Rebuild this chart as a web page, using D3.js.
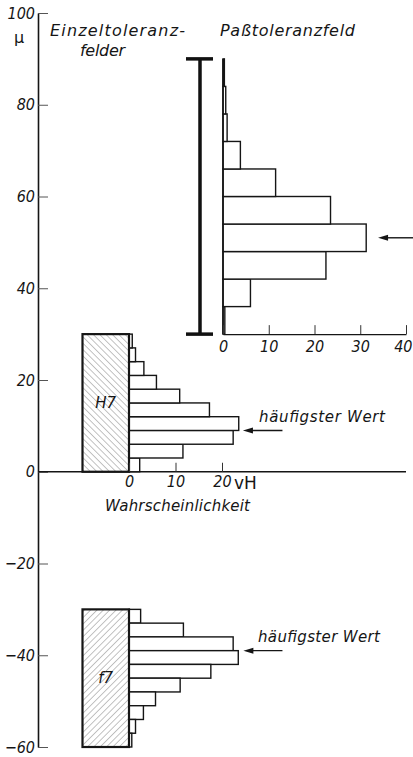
<!DOCTYPE html>
<html>
<head>
<meta charset="utf-8">
<script src="https://cdn.jsdelivr.net/npm/d3@7"></script>
<style>
body { margin: 0; background: #fff; }
text { font-family: "DejaVu Sans", sans-serif; font-style: italic; fill: #151515; }
.num { font-family: "DejaVu Sans Condensed", sans-serif; font-size: 16px; font-style: italic; }
.lbl { font-size: 15px; }
.up { font-style: normal; }
</style>
</head>
<body>
<div id="chart"></div>
<script>
// y ticks in micron
const yTicks = [100, 80, 60, 40, 20, 0, -20, -40, -60];
const probTicks = [0, 10, 20];
const fitTicks = [0, 10, 20, 30, 40];

// tolerance fields (micron)
const holeField = [0, 30];
const shaftField = [-60, -30];
const fitField = [30, 90];

// histograms: lower bin edge (micron) and share in vH
const holeBins = [0, 3, 6, 9, 12, 15, 18, 21, 24, 27];
const holeValues = [2.3, 11.6, 22.4, 23.6, 17.3, 10.9, 5.9, 3.2, 1.4, 0.7];
const shaftBins = [-33, -36, -39, -42, -45, -48, -51, -54, -57, -60];
const shaftValues = [2.5, 11.7, 22.4, 23.5, 17.6, 11.0, 5.7, 3.1, 1.4, 0.6];
const fitBins = [30, 36, 42, 48, 54, 60, 66, 72, 78, 84];
const fitValues = [0.4, 6.0, 22.5, 31.3, 23.5, 11.5, 3.8, 0.9, 0.6, 0.3];

// most frequent value (micron) marked by arrows
const holePeak = 9;
const shaftPeak = -39;
const fitPeak = 51;

const width = 413;
const height = 757;
const axisX = 38;
const beamX = 200;

const svg = d3.select('#chart')
    .append('svg')
    .attr('width', width)
    .attr('height', height);

const defs = svg.append('defs');
[['hatchH', -45], ['hatchF', 45]].forEach(([id, angle]) => {
    defs.append('pattern')
        .attr('id', id)
        .attr('patternUnits', 'userSpaceOnUse')
        .attr('width', 4.5)
        .attr('height', 4.5)
        .attr('patternTransform', 'rotate(' + angle + ')')
        .append('line')
        .attr('x1', 0).attr('y1', 0)
        .attr('x2', 0).attr('y2', 4.5)
        .attr('stroke', '#7a7a7a')
        .attr('stroke-width', 0.9);
});

const y = d3.scaleLinear().domain([-60, 100]).range([747, 13]);
const xProb = d3.scaleLinear().domain([0, 20]).range([129, 222]);
const xFit = d3.scaleLinear().domain([0, 40]).range([223, 406]);

// y axis: ticks point right, labels left
const yAxisG = svg.append('g')
    .attr('transform', 'translate(' + axisX + ',0)')
    .call(d3.axisLeft(y).tickValues(yTicks).tickSize(-10).tickSizeOuter(0).tickPadding(3));
yAxisG.attr('font-family', null).attr('font-size', null);
yAxisG.select('.domain').attr('stroke', '#151515').attr('stroke-width', 1.6);
yAxisG.selectAll('.tick line').attr('stroke', '#555').attr('stroke-width', 1);
yAxisG.selectAll('.tick text').attr('class', 'num').attr('fill', null);

// zero line
svg.append('line')
    .attr('x1', axisX).attr('x2', xFit(40))
    .attr('y1', y(0)).attr('y2', y(0))
    .attr('stroke', '#151515').attr('stroke-width', 1.6);

// hole / shaft histograms
function histogram(bins, values, step) {
    svg.append('g').selectAll('rect')
        .data(bins)
        .enter()
        .append('rect')
        .attr('x', xProb(0))
        .attr('y', d => y(d + step))
        .attr('width', (d, i) => xProb(values[i]) - xProb(0))
        .attr('height', d => y(d) - y(d + step))
        .attr('fill', '#fff')
        .attr('stroke', '#151515')
        .attr('stroke-width', 1.4);
}
histogram(holeBins, holeValues, 3);
histogram(shaftBins, shaftValues, 3);

// hatched tolerance fields
function field(range, pattern, label) {
    svg.append('rect')
        .attr('x', xProb(-10))
        .attr('y', y(range[1]))
        .attr('width', xProb(0) - xProb(-10))
        .attr('height', y(range[0]) - y(range[1]))
        .attr('fill', 'url(#' + pattern + ')')
        .attr('stroke', '#151515')
        .attr('stroke-width', 2.2);
    svg.append('text')
        .attr('class', 'lbl')
        .attr('x', xProb(-5))
        .attr('y', y((range[0] + range[1]) / 2) + 5)
        .attr('text-anchor', 'middle')
        .text(label);
}
field(holeField, 'hatchH', 'H7');
field(shaftField, 'hatchF', 'f7');

// probability axis at zero
const probAxisG = svg.append('g')
    .attr('transform', 'translate(0,' + y(0) + ')')
    .call(d3.axisBottom(xProb).tickValues(probTicks).tickSize(-9).tickPadding(4));
probAxisG.attr('font-family', null).attr('font-size', null);
probAxisG.select('.domain').remove();
probAxisG.selectAll('.tick line').attr('stroke', '#333').attr('stroke-width', 1);
probAxisG.selectAll('.tick text').attr('class', 'num').attr('fill', null);
svg.append('text')
    .attr('class', 'up')
    .attr('x', xProb(20) + 12).attr('y', y(0) + 17)
    .attr('font-size', 17)
    .attr('font-family', 'DejaVu Sans Condensed, sans-serif')
    .text('vH');
svg.append('text')
    .attr('class', 'lbl')
    .attr('x', 105).attr('y', y(0) + 39)
    .attr('textLength', 145)
    .text('Wahrscheinlichkeit');

// fit histogram
svg.append('g').selectAll('rect')
    .data(fitBins)
    .enter()
    .append('rect')
    .attr('x', xFit(0))
    .attr('y', d => y(d + 6))
    .attr('width', (d, i) => xFit(fitValues[i]) - xFit(0))
    .attr('height', d => y(d) - y(d + 6))
    .attr('fill', '#fff')
    .attr('stroke', '#151515')
    .attr('stroke-width', 1.4);
svg.append('line')
    .attr('x1', xFit(0)).attr('x2', xFit(0))
    .attr('y1', y(fitField[1])).attr('y2', y(fitField[0]))
    .attr('stroke', '#151515').attr('stroke-width', 1.6);

const fitAxisG = svg.append('g')
    .attr('transform', 'translate(0,' + y(fitField[0]) + ')')
    .call(d3.axisBottom(xFit).tickValues(fitTicks).tickSize(-9).tickSizeOuter(0).tickPadding(7));
fitAxisG.attr('font-family', null).attr('font-size', null);
fitAxisG.select('.domain').attr('stroke', '#151515').attr('stroke-width', 1.4);
fitAxisG.selectAll('.tick line').attr('stroke', '#333').attr('stroke-width', 1);
fitAxisG.selectAll('.tick text').attr('class', 'num').attr('fill', null);
// last label sits at the page edge: keep it inside
fitAxisG.selectAll('.tick text').filter(d => d === 40).attr('text-anchor', 'end').attr('x', 6);

// fit tolerance field as I-beam
const beam = svg.append('g').attr('stroke', '#111').attr('stroke-width', 3.5);
beam.append('line')
    .attr('x1', beamX).attr('x2', beamX)
    .attr('y1', y(fitField[1])).attr('y2', y(fitField[0]));
fitField.forEach(v => {
    beam.append('line')
        .attr('x1', beamX - 14).attr('x2', beamX + 13)
        .attr('y1', y(v)).attr('y2', y(v));
});

// arrows
function arrow(x1, x2, yy) {
    svg.append('line')
        .attr('x1', x1).attr('x2', x2 + 6)
        .attr('y1', yy).attr('y2', yy)
        .attr('stroke', '#151515').attr('stroke-width', 1.4);
    svg.append('path')
        .attr('d', 'M' + x2 + ',' + yy + 'l10,-3l0,6z')
        .attr('fill', '#151515');
}
arrow(xProb(33), xProb(24.5), y(holePeak));
arrow(xProb(33), xProb(24.6), y(shaftPeak));
arrow(width + 2, xFit(33.9), y(fitPeak));

svg.append('text').attr('class', 'lbl')
    .attr('x', 259).attr('y', y(holePeak) - 8)
    .attr('textLength', 126)
    .text('häufigster Wert');
svg.append('text').attr('class', 'lbl')
    .attr('x', 258).attr('y', y(shaftPeak) - 9)
    .attr('textLength', 122)
    .text('häufigster Wert');

// titles
svg.append('text').attr('class', 'up').attr('font-size', 16)
    .attr('x', 14).attr('y', 43).text('μ');
svg.append('text').attr('font-size', 16)
    .attr('x', 50).attr('y', 36).attr('textLength', 135).text('Einzeltoleranz-');
svg.append('text').attr('font-size', 16)
    .attr('x', 80).attr('y', 56).attr('textLength', 45).text('felder');
svg.append('text').attr('font-size', 16)
    .attr('x', 220).attr('y', 36).attr('textLength', 135).text('Paßtoleranzfeld');
</script>
</body>
</html>
